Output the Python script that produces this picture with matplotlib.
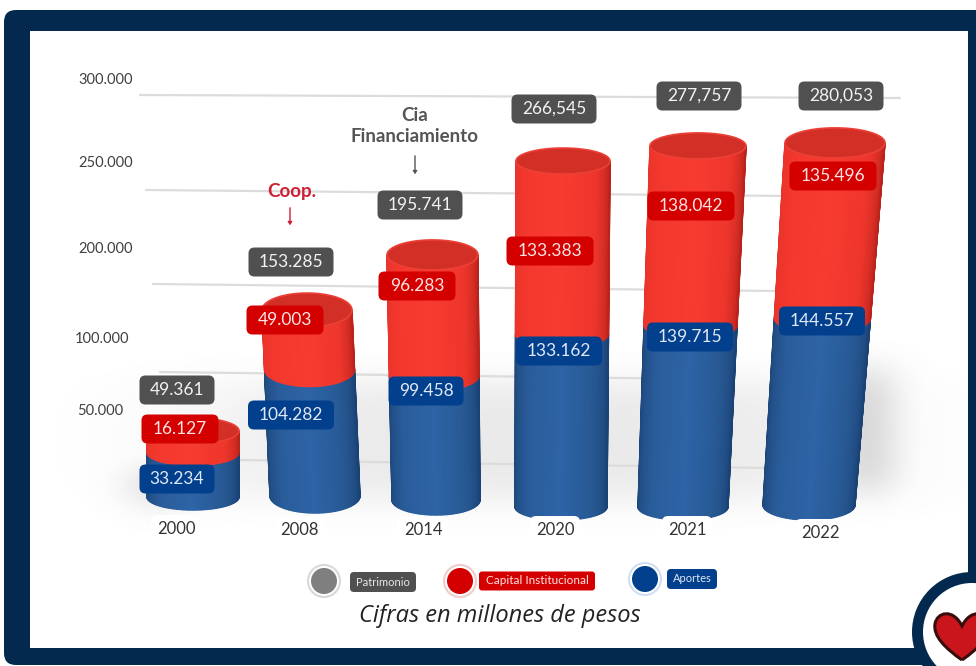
"""Patrimonio por anio: cilindros apilados, capital institucional sobre aportes."""
import matplotlib
matplotlib.use("Agg")
import matplotlib.pyplot as plt
import numpy as np
from matplotlib.collections import PolyCollection
from matplotlib.colors import LinearSegmentedColormap
from matplotlib.patches import Circle, FancyBboxPatch, PathPatch, Polygon
from matplotlib.path import Path
from matplotlib.transforms import Affine2D

plt.rcParams["font.family"] = ["Lato", "DejaVu Sans"]

YEARS = ["2000", "2008", "2014", "2020", "2021", "2022"]
APORTES = [33234, 104282, 99458, 133162, 139715, 144557]
CAPITAL = [16127, 49003, 96283, 133383, 138042, 135496]
PATRIMONIO = [49361, 153285, 195741, 266545, 277757, 280053]
APORTES_TXT = ["33.234", "104.282", "99.458", "133.162", "139.715", "144.557"]
CAPITAL_TXT = ["16.127", "49.003", "96.283", "133.383", "138.042", "135.496"]
PATRIMONIO_TXT = ["49.361", "153.285", "195.741", "266,545", "277,757", "280,053"]
AXIS_TXT = ["300.000", "250.000", "200.000", "100.000", "50.000"]

NAVY = "#04294f"
GREY = "#505050"
RED = "#d40000"
BLUE = "#023f8c"

# perspective of each cylinder, in pixels of the 976x666 canvas
BASE_Y = [497, 496, 500, 507, 507, 505]
PX_PER_K = [1.34, 1.213, 1.252, 1.298, 1.30, 1.293]
X_BOT = [193, 315, 436, 561, 683, 809]
X_TOP = [193, 307, 432.5, 563, 698, 835]
A_BOT = [46, 45, 44, 46, 45, 46]
A_TOP = [46, 45, 45.5, 47, 48, 50]
B_ELL = [13, 17, 15, 13, 13, 15]

TOTAL_XY = [(177, 390), (291, 262), (420, 205), (554, 109), (699, 96), (841, 96)]
CAPITAL_XY = [(180, 429), (285, 320), (417, 286), (550, 251), (691, 206), (833, 176)]
APORTES_XY = [(177, 479), (291, 415), (426, 391), (559, 351), (690, 337), (822, 321)]
YEAR_XY = [(176, 529), (299, 530), (423, 530), (555, 530), (687, 530), (820, 533)]
AXIS_XY = [(78, 80), (78, 163), (78, 249), (75, 339), (77, 411)]
GRID_SEG = [(140, 95, 900, 98), (146, 190, 790, 196), (153, 284, 775, 291),
            (160, 372, 700, 379), (238, 460, 770, 468)]

blue_cm = LinearSegmentedColormap.from_list("b", ["#1c4678", "#2a5c9a", "#2d64a6", "#275893", "#1b4274"])
red_cm = LinearSegmentedColormap.from_list("r", ["#e8332a", "#f5382e", "#f73b30", "#ee362c", "#b9231c"])


def rbox(ax, cx, cy, w, h, color, r=6, z=10):
    ax.add_patch(FancyBboxPatch((cx - w / 2 + r, cy - h / 2 + r), w - 2 * r, h - 2 * r,
                                boxstyle=f"round,pad={r},rounding_size={r}",
                                fc=color, ec="none", zorder=z))


def segment(ax, i, v0, v1, total, cmap, z):
    trans = Affine2D().scale(1, -PX_PER_K[i] / 1000).translate(0, BASE_Y[i]) + ax.transData
    thetas = np.linspace(np.pi, 0, 61)
    bk = B_ELL[i] / PX_PER_K[i] * 1000

    def pts(v, th):
        f = v / total
        xc = X_BOT[i] + (X_TOP[i] - X_BOT[i]) * f
        a = A_BOT[i] + (A_TOP[i] - A_BOT[i]) * f
        return xc + a * np.cos(th), v - bk * np.sin(th)

    quads, cols = [], []
    for j in range(len(thetas) - 1):
        t0, t1 = thetas[j], thetas[j + 1]
        quads.append([pts(v0, t0), pts(v0, t1), pts(v1, t1), pts(v1, t0)])
        cols.append(cmap(j / (len(thetas) - 2)))
    ax.add_collection(PolyCollection(quads, facecolors=cols, edgecolors=cols,
                                     linewidths=1.0, transform=trans, zorder=z))
    return trans, pts


fig = plt.figure(figsize=(9.76, 6.66), dpi=100)
ax = fig.add_axes([0, 0, 1, 1])
ax.set_axis_off()

# frame
ax.add_patch(FancyBboxPatch((16, 22), 976, 631, boxstyle="round,pad=12,rounding_size=12",
                            fc=NAVY, ec="none", zorder=0))
ax.add_patch(plt.Rectangle((30, 31), 938, 617, fc="white", ec="none", zorder=1))

# soft floor shadow
yy, xx = np.mgrid[0:666, 0:976]
alpha = 0.15 * np.exp(-(((xx - 530) / 340.0) ** 4 + ((yy - 440) / 65.0) ** 4))
alpha = np.maximum(alpha, 0.26 * np.exp(-(((xx - 865) / 38.0) ** 2 + ((yy - 430) / 65.0) ** 4)))
alpha = np.maximum(alpha, 0.18 * np.exp(-(((xx - 160) / 40.0) ** 2 + ((yy - 485) / 25.0) ** 2)))
rgba = np.zeros((666, 976, 4))
rgba[..., :3] = 0.45
rgba[..., 3] = alpha
ax.imshow(rgba, extent=(0, 976, 666, 0), aspect="auto", zorder=1.5, interpolation="bilinear")

for x0, y0, x1, y1 in GRID_SEG:
    ax.plot([x0, x1], [y0, y1], color="#dcdcdc", lw=1.6, zorder=2, solid_capstyle="round")

for (x, y), t in zip(AXIS_XY, AXIS_TXT):
    ax.text(x, y, t, fontsize=10.5, color="#404040", ha="left", va="center", zorder=3)

# cylinders
for i in range(len(YEARS)):
    total = APORTES[i] + CAPITAL[i]
    segment(ax, i, 0, APORTES[i], total, blue_cm, 4 + i * 0.01)
    trans, pts = segment(ax, i, APORTES[i], total, total, red_cm, 4.2 + i * 0.01)
    th = np.linspace(0, 2 * np.pi, 90)
    x, y = pts(total, th)
    ax.add_patch(Polygon(np.column_stack([x, y]), closed=True, fc="#d22f27", ec="#ec4036",
                         lw=1.2, transform=trans, zorder=4.4))

# value labels
for (cx, cy), t in zip(TOTAL_XY, PATRIMONIO_TXT):
    rbox(ax, cx, cy, 75 if t == "49.361" else 85, 29, GREY)
    ax.text(cx, cy, t, color="#f2f2f2", fontsize=12.5, ha="center", va="center", zorder=11)
for (cx, cy), t in zip(CAPITAL_XY, CAPITAL_TXT):
    rbox(ax, cx, cy, 77 if len(t) == 6 else 87, 29, RED)
    ax.text(cx, cy, t, color="#fbe4e4", fontsize=12.5, ha="center", va="center", zorder=11)
for (cx, cy), t in zip(APORTES_XY, APORTES_TXT):
    rbox(ax, cx, cy, 75 if len(t) == 6 else 86, 29, BLUE)
    ax.text(cx, cy, t, color="#dfe8f5", fontsize=12.5, ha="center", va="center", zorder=11)

for (cx, cy), t in zip(YEAR_XY, YEARS):
    rbox(ax, cx, cy, 50, 28, "white", r=6, z=9)
    ax.text(cx, cy, t, color="#333333", fontsize=12, ha="center", va="center", zorder=11)

# notes
ax.text(292, 191, "Coop.", color="#cf1f35", fontsize=13.5, fontweight="bold", ha="center", va="center", zorder=11)
ax.annotate("", xy=(290, 228), xytext=(290, 205), zorder=11,
            arrowprops=dict(arrowstyle="-|>,head_width=0.12,head_length=0.18", color="#cf1f35", lw=1))
ax.text(415, 126, "Cia\nFinanciamiento", color="#555555", fontsize=13.5, fontweight="bold",
        ha="center", va="center", linespacing=1.25, zorder=11)
ax.annotate("", xy=(415, 177), xytext=(415, 153), zorder=11,
            arrowprops=dict(arrowstyle="-|>,head_width=0.12,head_length=0.18", color="#555555", lw=1))

# legend
for cx, cy, col, ring in [(324, 581, "#7f7f7f", "#d8d8d8"), (460, 581, RED, "#f0cccc"), (645, 579, BLUE, "#cfe0f5")]:
    ax.add_patch(Circle((cx, cy), 16, fc="white", ec=ring, lw=1.5, zorder=5))
    ax.add_patch(Circle((cx, cy), 13, fc=col, ec="none", zorder=6))
rbox(ax, 383, 582, 66, 20, GREY, r=4)
ax.text(383, 582, "Patrimonio", color="#e8e8e8", fontsize=8, ha="center", va="center", zorder=11)
rbox(ax, 537, 581, 116, 19, RED, r=3)
ax.text(537, 581, "Capital Institucional", color="#fbe4e4", fontsize=8.5, ha="center", va="center", zorder=11)
rbox(ax, 692, 579, 50, 20, BLUE, r=4)
ax.text(692, 579, "Aportes", color="#dfe8f5", fontsize=8, ha="center", va="center", zorder=11)
ax.text(500, 616, "Cifras en millones de pesos", family=["Open Sans", "DejaVu Sans"], style="italic",
        fontsize=17, color="#222222", ha="center", va="center", zorder=11)

# heart badge
ax.add_patch(Circle((972, 632), 60, fc=NAVY, ec="none", zorder=12))
ax.add_patch(Circle((972, 632), 49, fc="white", ec="none", zorder=13))
heart = Path([(962, 660), (945, 648), (933, 636), (935, 624), (937, 612), (953, 608), (962, 626),
              (971, 608), (987, 612), (989, 624), (991, 636), (979, 648), (962, 660)],
             [Path.MOVETO] + [Path.CURVE4] * 12)
ax.add_patch(PathPatch(heart, fc="#c9151b", ec="#3a0d0d", lw=2.2, zorder=14))

ax.set_xlim(0, 976)
ax.set_ylim(666, 0)
fig.savefig("out.png", dpi=100)
